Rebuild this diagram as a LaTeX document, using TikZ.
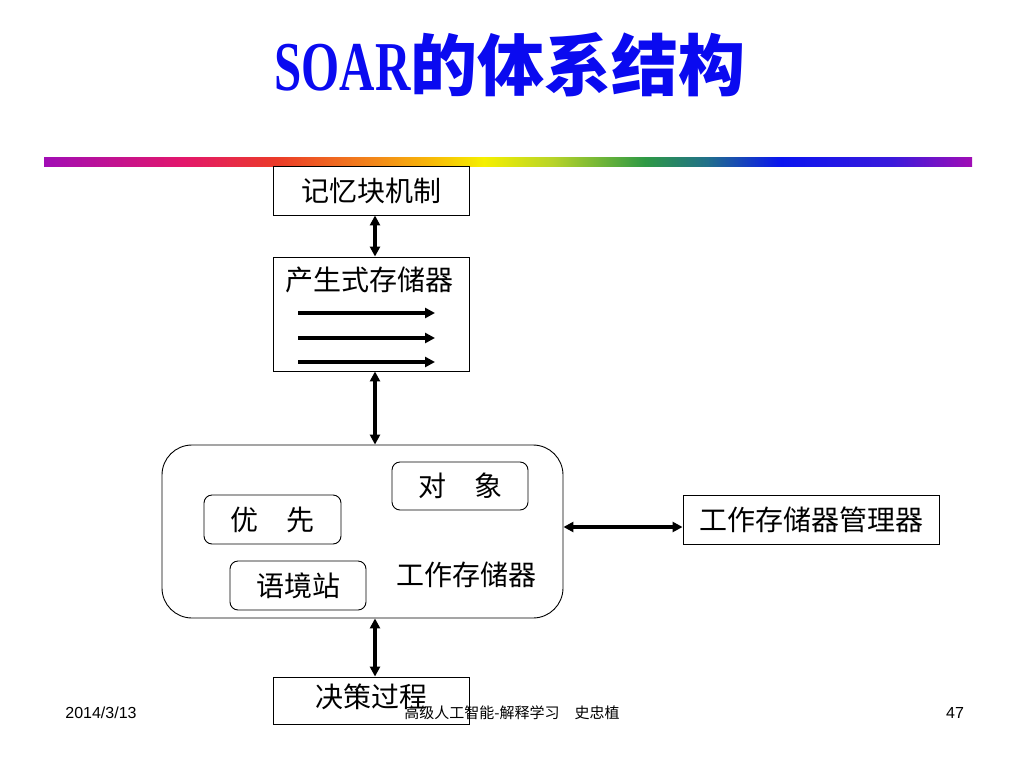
\documentclass[tikz,border=0pt]{standalone}
\usepackage{fontspec}
\usetikzlibrary{arrows.meta}
\setmainfont{Liberation Serif}
\setsansfont{Liberation Sans}
\newfontfamily\cjk{Noto Sans CJK SC}
\definecolor{titleblue}{RGB}{10,10,240}
\pgfdeclarehorizontalshading{rainbow}{100bp}{%
  rgb(0bp)=(0.63,0.05,0.71);
  rgb(25bp)=(0.63,0.05,0.71);
  rgb(32.5bp)=(0.89,0.09,0.42);
  rgb(37.5bp)=(0.92,0.23,0.16);
  rgb(42.8bp)=(0.95,0.53,0.10);
  rgb(45.8bp)=(0.97,0.72,0.03);
  rgb(48.7bp)=(0.96,0.94,0.00);
  rgb(52.4bp)=(0.72,0.83,0.16);
  rgb(57.4bp)=(0.18,0.60,0.27);
  rgb(60.7bp)=(0.13,0.44,0.54);
  rgb(64.7bp)=(0.04,0.08,0.94);
  rgb(70.7bp)=(0.23,0.10,0.86);
  rgb(75bp)=(0.63,0.05,0.71);
  rgb(100bp)=(0.63,0.05,0.71)}
\tikzset{
  box/.style={draw, line width=0.9pt, inner sep=0pt,
    font=\cjk\fontsize{28}{28}\selectfont},
  roundbox/.style={box, rounded corners=8pt},
  dbl/.style={{Triangle[length=10pt,width=10pt]}-{Triangle[length=10pt,width=10pt]},
    line width=3.2pt},
  inarrow/.style={-{Triangle[length=10pt,width=10pt]}, line width=3.2pt},
  footer/.style={font=\sffamily\fontsize{16}{16}\selectfont}
}
\begin{document}
\begin{tikzpicture}[x=1pt,y=-1pt]
  \useasboundingbox (0,0) rectangle (1024,768);
  % title and bar
  \node[anchor=base, text=titleblue, inner sep=0pt] (title) at (510,90)
    {\fontsize{70}{70}\selectfont\bfseries\scalebox{0.7}[1]{SOAR}%
     {\cjk\fontsize{67}{67}\selectfont\bfseries 的体系结构}};
  \shade[shading=rainbow] (44,157) rectangle (972,166);
  % memory blocks
  \node[box, minimum width=196pt, minimum height=49pt] (chunk) at (371,190.5) {记忆块机制};
  \node[box, minimum width=196pt, minimum height=114pt] (prod) at (371,314) {};
  \node[font=\cjk\fontsize{28}{28}\selectfont, inner sep=0pt] (prodlabel) at (369,280) {产生式存储器};
  \foreach \y in {313,338,362}
    \draw[inarrow] (298,\y) -- (435,\y);
  \node[box, rounded corners=30pt, minimum width=401pt, minimum height=173pt] (wm) at (362.5,531.5) {};
  \node[roundbox, minimum width=136pt, minimum height=48pt] (obj) at (460,486) {对　象};
  \node[roundbox, minimum width=137pt, minimum height=49pt] (pri) at (272.5,519.5) {优　先};
  \node[roundbox, minimum width=136pt, minimum height=49pt] (ctx) at (298,585.5) {语境站};
  \node[font=\cjk\fontsize{28}{28}\selectfont, inner sep=0pt] (wmlabel) at (466,575) {工作存储器};
  \node[box, minimum width=256pt, minimum height=49pt] (mgr) at (811,519.5) {工作存储器管理器};
  \node[box, minimum width=196pt, minimum height=47pt] (dec) at (371,700.5) {};
  \node[font=\cjk\fontsize{28}{28}\selectfont, inner sep=0pt] (declabel) at (371,697) {决策过程};
  % connectors
  \draw[dbl] ([xshift=4pt]chunk.south) -- ([xshift=4pt]prod.north);
  \draw[dbl] ([xshift=4pt]prod.south) -- ([xshift=4pt]prod.south |- wm.north);
  \draw[dbl] ([xshift=4pt]dec.north |- wm.south) -- ([xshift=4pt]dec.north);
  \draw[dbl] ([yshift=-7.5pt]mgr.west -| wm.east) -- ([yshift=-7.5pt]mgr.west);
  % footer
  \node[footer] (date) at (101,713) {2014/3/13};
  \node[font=\cjk\fontsize{15}{15}\selectfont] (course) at (512,713) {高级人工智能-解释学习\quad 史忠植};
  \node[footer] (page) at (955,713) {47};
\end{tikzpicture}
\end{document}
